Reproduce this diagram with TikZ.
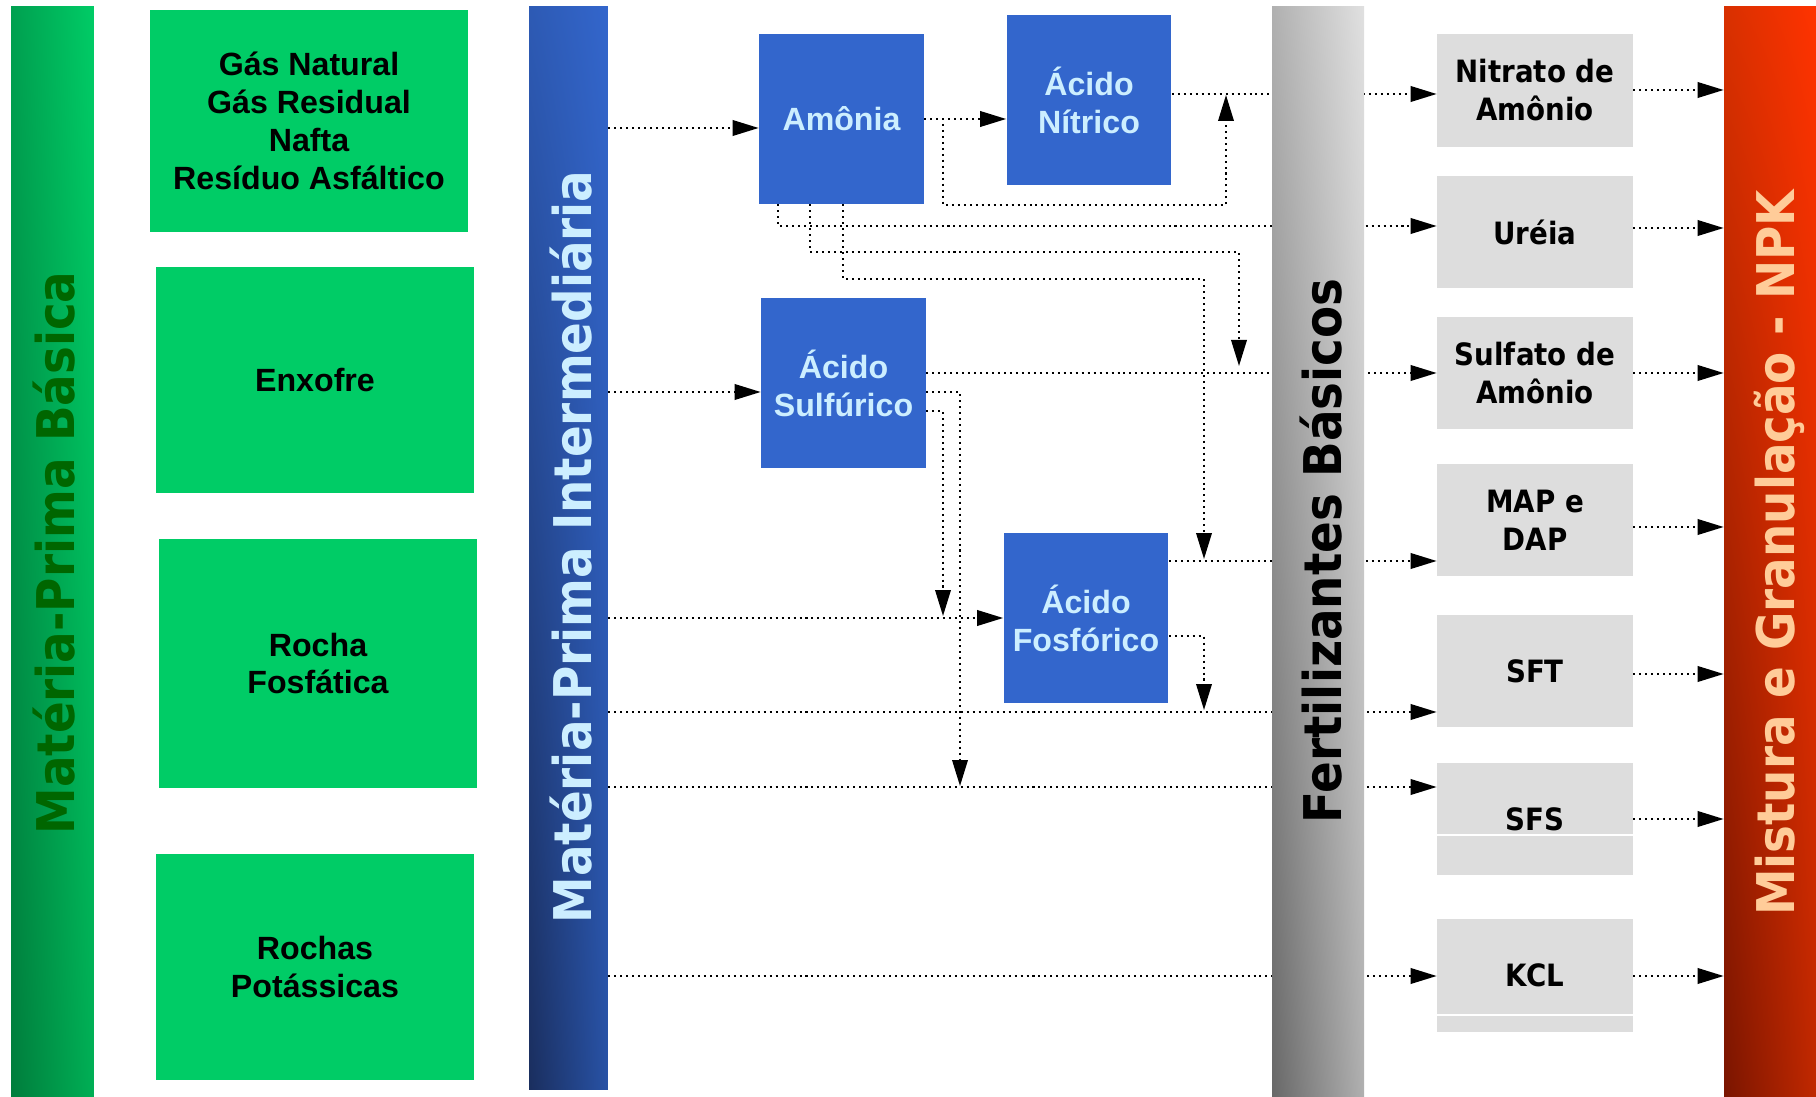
\documentclass[tikz,border=0pt]{standalone}
\usepackage{fontspec}
\setmainfont{DejaVu Sans}
\newfontfamily\barfont[FakeStretch=0.9]{DejaVu Sans}
\newfontfamily\boxfont{Liberation Sans}
\usetikzlibrary{arrows.meta, shadings}

\definecolor{verde}{HTML}{00CC66}
\definecolor{verdeescuro}{HTML}{006600}
\definecolor{verdeA}{RGB}{0,160,80}
\definecolor{verdeB}{RGB}{0,125,60}
\definecolor{verdeC}{RGB}{0,175,85}
\definecolor{azul}{HTML}{3366CC}
\definecolor{azulclaro}{HTML}{CCEEFF}
\definecolor{azulA}{RGB}{45,90,180}
\definecolor{azulB}{RGB}{26,46,94}
\definecolor{azulC}{RGB}{40,82,165}
\definecolor{cinza}{HTML}{DDDDDD}
\definecolor{cinzaA}{RGB}{176,176,176}
\definecolor{cinzaB}{RGB}{224,224,224}
\definecolor{cinzaC}{RGB}{104,104,104}
\definecolor{laranja}{HTML}{FFCC99}
\definecolor{vermA}{RGB}{216,48,0}
\definecolor{vermB}{RGB}{255,51,0}
\definecolor{vermC}{RGB}{122,21,0}
\definecolor{vermD}{RGB}{192,40,0}

\tikzset{
  barra/.style = {shade, inner sep=0pt, minimum height=21.82cm},
  rotulo/.style = {rotate=90, anchor=base, inner sep=0pt,
    font=\barfont\bfseries\fontsize{29.6}{32}\selectfont},
  mp/.style = {fill=verde, inner sep=0pt, minimum width=6.36cm, align=center,
    font=\boxfont\bfseries\fontsize{18.3}{21.6}\selectfont},
  inter/.style = {fill=azul, text=azulclaro, inner sep=0pt, minimum width=3.3cm,
    minimum height=3.4cm, align=center,
    font=\boxfont\bfseries\fontsize{18.3}{21.6}\selectfont},
  fert/.style = {fill=cinza, inner sep=0pt, minimum width=3.92cm,
    minimum height=2.26cm, align=center,
    font=\barfont\bfseries\fontsize{17.5}{21.6}\selectfont},
  fluxo/.style = {line width=1.15pt, dash pattern=on 1.15pt off 2.25pt,
    -{Triangle[length=0.52cm,width=0.31cm]}}
}

\begin{document}
\begin{tikzpicture}[x=0.02cm, y=-0.02cm]
  \useasboundingbox (0,0) rectangle (1816,1097);

  % barras
  \node[barra, minimum width=1.66cm, upper left=verdeA, upper right=verde,
    lower left=verdeB, lower right=verdeC] (mpb) at (52.5,551.5) {};
  \node[rotulo, text=verdeescuro] at (74,553) {Matéria-Prima Básica};

  \node[barra, minimum width=1.58cm, minimum height=21.68cm,
    upper left=azulA, upper right=azul, lower left=azulB,
    lower right=azulC] (mpi) at (568.5,548) {};
  \node[rotulo, text=azulclaro] at (591,547) {Matéria-Prima Intermediária};

  \node[barra, minimum width=1.84cm, upper left=vermA, upper right=vermB,
    lower left=vermC, lower right=vermD] (npk) at (1770,551.5) {};
  \node[rotulo, text=laranja] at (1794,553) {Mistura e Granulação - NPK};

  % materia-prima basica
  \node[mp, minimum height=4.44cm] (gas) at (309,121)
    {Gás Natural\\Gás Residual\\Nafta\\Resíduo Asfáltico};
  \node[mp, minimum height=4.52cm] (enxofre) at (315,380) {Enxofre};
  \node[mp, minimum height=4.98cm] (fosfatica) at (318,663.5) {Rocha\\Fosfática};
  \node[mp, minimum height=4.52cm] (potassicas) at (315,967) {Rochas\\Potássicas};

  % materia-prima intermediaria
  \node[inter] (amonia) at (841.5,119) {Amônia};
  \node[inter] (nitrico) at (1089,100) {Ácido\\Nítrico};
  \node[inter] (sulfurico) at (843.5,383) {Ácido\\Sulfúrico};
  \node[inter] (fosforico) at (1086,618) {Ácido\\Fosfórico};

  % fertilizantes basicos
  \node[fert] (nitrato) at (1535,90.5) {Nitrato de\\Amônio};
  \node[fert] (ureia) at (1535,232) {Uréia};
  \node[fert] (sulfato) at (1535,373) {Sulfato de\\Amônio};
  \node[fert] (map) at (1535,520) {MAP e\\DAP};
  \node[fert] (sft) at (1535,671) {SFT};
  \node[fert] (sfs) at (1535,819) {SFS};
  \node[fert] (kcl) at (1535,975.5) {KCL};
  \draw[white, line width=0.6pt] (sfs.west |- 0,835) -- (sfs.east |- 0,835);
  \draw[white, line width=0.6pt] (kcl.west |- 0,1015) -- (kcl.east |- 0,1015);

  % entradas
  \draw[fluxo] (mpi.east |- 0,128) -- (amonia.west |- 0,128);
  \draw[fluxo] (mpi.east |- 0,392) -- (sulfurico.west |- 0,392);
  \draw[fluxo] (mpi.east |- 0,618) -- (fosforico.west |- 0,618);
  \draw[fluxo] (mpi.east |- 0,712) -- (sft.west |- 0,712);
  \draw[fluxo] (mpi.east |- 0,787) -- (sfs.west |- 0,787);
  \draw[fluxo] (mpi.east |- 0,976) -- (kcl.west |- 0,976);

  % amonia
  \draw[fluxo] (amonia.east) -- (nitrico.west |- amonia.east);
  \draw[fluxo] (amonia.east) -- ++(19,0) |- (1226,205) -- (1226,95);
  \draw[fluxo] (nitrico.east |- 0,94) -- (nitrato.west |- 0,94);
  \draw[fluxo] (amonia.south -| 778,0) |- (ureia.west |- 0,226);
  \draw[fluxo] (amonia.south -| 810,0) |- (1239,252) -- (1239,366);
  \draw[fluxo] (amonia.south -| 843,0) |- (1204,279) -- (1204,559);

  % acido sulfurico
  \draw[fluxo] (sulfurico.east |- 0,373) -- (sulfato.west |- 0,373);
  \draw[fluxo] (sulfurico.east |- 0,392) -| (960,786);
  \draw[fluxo] (sulfurico.east |- 0,411) -| (943,616);

  % acido fosforico
  \draw[fluxo] (fosforico.east |- 0,561) -- (map.west |- 0,561);
  \draw[fluxo] (fosforico.east |- 0,636) -| (1204,710);

  % saidas
  \foreach \n/\y in {nitrato/90, ureia/228, sulfato/373, map/527,
                     sft/674, sfs/819, kcl/976}
    \draw[fluxo] (\n.east |- 0,\y) -- (npk.west |- 0,\y);

  % fertilizantes basicos (por cima das linhas)
  \node[barra, minimum width=1.84cm, upper left=cinzaA, upper right=cinzaB,
    lower left=cinzaC, lower right=cinzaA] (fb) at (1318,551.5) {};
  \node[rotulo] at (1341,551) {Fertilizantes Básicos};
\end{tikzpicture}
\end{document}
